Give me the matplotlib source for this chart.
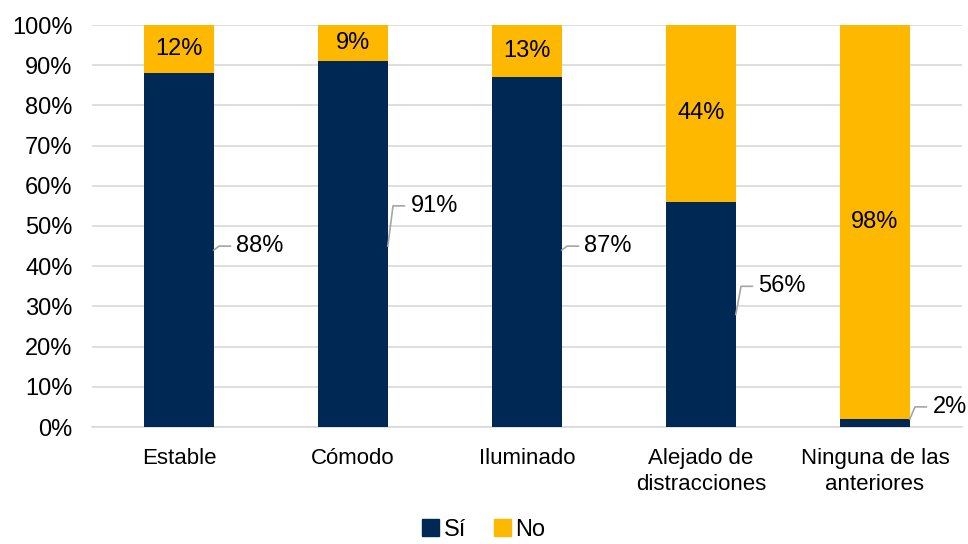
import matplotlib
matplotlib.use("Agg")
import matplotlib.pyplot as plt
from matplotlib.patches import Patch

categories = ["Estable", "Cómodo", "Iluminado", "Alejado de\ndistracciones", "Ninguna de las\nanteriores"]
si_values = [88, 91, 87, 56, 2]
no_values = [12, 9, 13, 44, 98]
yticks = [0, 10, 20, 30, 40, 50, 60, 70, 80, 90, 100]

# label anchor heights for the "Sí" callouts (styling)
si_label_y = [45, 55, 45, 35, 5]
si_anchor_y = [44, 45, 44, 28, 2]

navy = "#002855"
gold = "#FFB800"

plt.rcParams['font.family'] = ['Liberation Sans', 'DejaVu Sans']

fig = plt.figure(figsize=(9.68, 5.44), dpi=100)
ax = fig.add_axes([92/968, 1-427/544, (962-92)/968, (427-25)/544])

x = list(range(len(categories)))
w = 0.4
ax.bar(x, si_values, width=w, color=navy, zorder=3)
ax.bar(x, no_values, width=w, bottom=si_values, color=gold, zorder=3)

ax.set_xlim(-0.5, len(categories)-0.5)
ax.set_ylim(0, 100)
ax.set_yticks(yticks)
ax.set_yticklabels([f"{v}%" for v in yticks], fontsize=17)
ax.set_xticks(x)
ax.set_xticklabels(categories, fontsize=16, linespacing=1.3)
ax.tick_params(axis='x', length=0, pad=15)
ax.tick_params(axis='y', length=0, pad=14)
ax.grid(axis='y', color='#d9d9d9', linewidth=1.2, zorder=0)
for s in ['top', 'right', 'left']:
    ax.spines[s].set_visible(False)
ax.spines['bottom'].set_color('#d9d9d9')
ax.spines['bottom'].set_linewidth(1.2)

# "No" labels centered in segments
for xi, s, n in zip(x, si_values, no_values):
    ax.text(xi, s + n/2, f"{n}%", ha='center', va='center', fontsize=17, color='black', zorder=5)

# "Sí" labels with leader lines
for xi, s, ly, ay in zip(x, si_values, si_label_y, si_anchor_y):
    edge = xi + w/2
    ax.plot([edge, edge + 0.03, edge + 0.095], [ay, ly, ly], color='#a6a6a6', linewidth=1.2, zorder=4, clip_on=False)
    ax.text(edge + 0.13, ly, f"{s}%", ha='left', va='center', fontsize=17, color='black', zorder=5)

handles = [Patch(color=navy, label='Sí'), Patch(color=gold, label='No')]
fig.legend(handles=handles, loc='lower center', bbox_to_anchor=(0.5, -0.033), ncol=2, frameon=False,
           fontsize=17, handlelength=0.7, handleheight=0.7, handletextpad=0.2, columnspacing=1.2)

fig.savefig("out.png", dpi=100)
